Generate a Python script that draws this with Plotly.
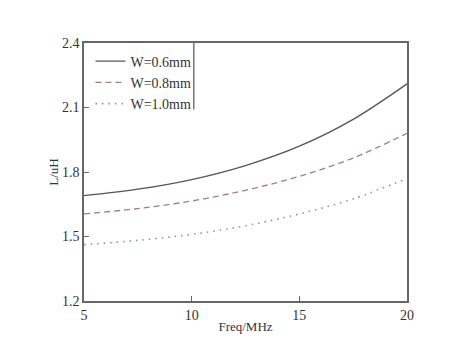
import plotly.graph_objects as go

freq = [5, 7.5, 10, 12.5, 15, 17.5, 20]
w06 = [1.69, 1.72, 1.765, 1.83, 1.92, 2.045, 2.21]
w08 = [1.605, 1.63, 1.665, 1.715, 1.78, 1.865, 1.98]
w10 = [1.462, 1.482, 1.51, 1.55, 1.605, 1.675, 1.77]
names = ["W=0.6mm", "W=0.8mm", "W=1.0mm"]
x_ticks = [5, 10, 15, 20]
y_ticks = [1.2, 1.5, 1.8, 2.1, 2.4]

font = "Liberation Serif, Times New Roman, serif"
fig = go.Figure()
styles = [("#555555", "solid", 1.3), ("#9c8080", "6px,4px", 1.3), ("#8494aa", "1.5px,5px", 1.6)]
for ys, nm, (c, d, w) in zip([w06, w08, w10], names, styles):
    fig.add_trace(go.Scatter(x=freq, y=ys, mode="lines", name=nm,
                             line=dict(color=c, dash=d, width=w, shape="spline")))

axis_common = dict(showline=True, linecolor="#666666", linewidth=1.5, mirror=True,
                   ticks="inside", ticklen=5, tickcolor="#666666", showgrid=False,
                   zeroline=False, tickfont=dict(size=14, color="#333333", family=font))
fig.update_xaxes(range=[5, 20], tickvals=x_ticks, ticktext=[str(v) for v in x_ticks],
                 title=dict(text="Freq/MHz", font=dict(size=13, color="#333333", family=font), standoff=0),
                 **axis_common)
fig.update_yaxes(range=[1.2, 2.4], tickvals=y_ticks, ticktext=[f"{v:.1f}" for v in y_ticks],
                 title=dict(text="L/uH", font=dict(size=13, color="#333333", family=font), standoff=0),
                 **axis_common)
fig.update_layout(
    width=473, height=361,
    margin=dict(l=76, r=74, t=35, b=68),
    paper_bgcolor="white", plot_bgcolor="white",
    font=dict(family=font, color="#333333"),
    legend=dict(x=0.02, y=0.99, xanchor="left", yanchor="top", bgcolor="rgba(0,0,0,0)",
                font=dict(size=14, family=font, color="#333333"), tracegroupgap=0,
                itemwidth=30),
    showlegend=True,
)
fig.add_shape(type="line", xref="paper", yref="paper", x0=0.34, x1=0.34, y0=0.742, y1=1.0,
              line=dict(color="#555555", width=1.2))
fig.write_html("out.html")
